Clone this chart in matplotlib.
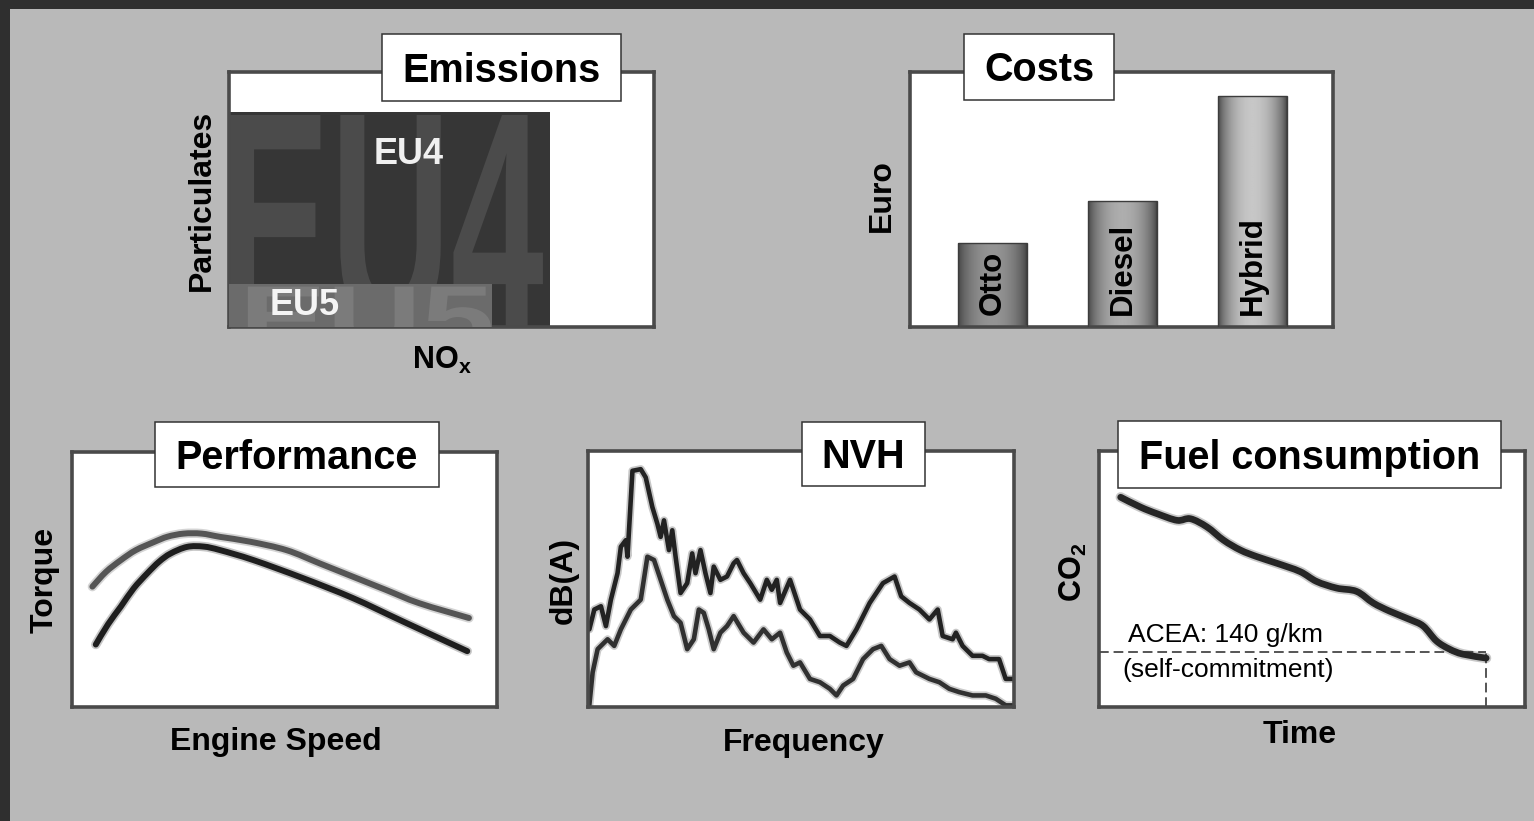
import numpy as np
import matplotlib
matplotlib.use("Agg")
import matplotlib.pyplot as plt
from matplotlib.patches import Rectangle, PathPatch
from matplotlib.path import Path
from matplotlib.textpath import TextPath
from matplotlib.font_manager import FontProperties
from matplotlib.transforms import Affine2D

W, H, DPI = 1534, 821, 100

plt.rcParams['font.family'] = ['Liberation Sans', 'DejaVu Sans']
plt.rcParams['mathtext.fontset'] = 'custom'
plt.rcParams['mathtext.rm'] = 'Liberation Sans'
plt.rcParams['mathtext.bf'] = 'Liberation Sans:bold'
plt.rcParams['mathtext.it'] = 'Liberation Sans:italic'

# ---- Emission limits (NOx / particulates, g/km) ----
eu_stages = ['EU4', 'EU5']
eu_nox = [0.25, 0.205]
eu_pm = [0.025, 0.005]

# ---- Costs ----
engine_types = ['Otto', 'Diesel', 'Hybrid']
engine_cost = [84, 126, 231]

# ---- Performance: torque over engine speed ----
speed_hi = [4.8, 8.0, 11.5, 15.0, 19.3, 22.5, 26.3, 30.5, 34.9, 42.0, 50.5, 58.3, 66.1, 73.9, 81.7, 93.4]
torque_hi = [47.2, 53.0, 57.6, 61.5, 64.7, 66.8, 68.0, 68.0, 66.7, 64.8, 61.5, 56.3, 51.1, 45.9, 40.7, 34.9]
speed_lo = [5.6, 8.5, 11.5, 14.5, 17.7, 20.5, 23.2, 27.1, 31.0, 34.9, 42.7, 54.4, 66.1, 77.8, 93.0]
torque_lo = [24.5, 32.5, 39.4, 46.5, 52.4, 57.0, 60.2, 62.8, 62.9, 61.5, 57.6, 50.5, 42.7, 33.6, 21.9]

# ---- NVH: sound level spectra ----
freq_hi = [0, 15, 35, 50, 65, 85, 95, 110, 115, 130, 155, 170, 190, 205, 215, 225, 240, 250, 260, 275,
           295, 310, 320, 335, 350, 365, 375, 395, 415, 435, 445, 465, 485, 515, 535, 550, 565, 575, 605,
           635, 665, 695, 725, 755, 775, 805, 845, 885, 920, 940, 965, 995, 1025, 1050, 1065, 1095, 1105,
           1125, 1155, 1185, 1205, 1235, 1255, 1275]
level_hi = [235, 295, 305, 245, 325, 405, 485, 505, 455, 715, 720, 695, 605, 555, 515, 565, 475, 535, 455, 345,
            375, 465, 405, 475, 405, 345, 425, 385, 395, 435, 445, 405, 375, 325, 385, 355, 385, 315, 385,
            295, 265, 215, 215, 195, 185, 235, 315, 375, 395, 335, 315, 295, 265, 295, 215, 205, 225,
            185, 155, 155, 145, 145, 85, 85]
freq_lo = [0, 10, 25, 55, 75, 95, 125, 155, 175, 195, 215, 235, 255, 275, 295, 315, 330, 345, 360, 375,
           395, 415, 435, 465, 495, 525, 550, 575, 595, 615, 635, 665, 695, 725, 745, 765, 795, 825, 855,
           880, 905, 935, 965, 985, 1025, 1055, 1085, 1115, 1155, 1195, 1225, 1255, 1275]
level_lo = [5, 105, 175, 205, 185, 235, 295, 325, 455, 445, 385, 325, 275, 255, 175, 205, 295, 285, 235, 175,
            225, 245, 275, 225, 195, 235, 205, 225, 165, 125, 135, 85, 75, 55, 35, 65, 85, 145, 175,
            185, 145, 125, 135, 105, 85, 75, 55, 45, 35, 35, 25, 5, 5]

# ---- Fuel consumption: fleet CO2 over time (g/km) ----
years = [1995.0, 1995.71, 1996.30, 1997.01, 1997.48, 1998.07, 1998.66, 1999.26, 1999.85, 2000.56, 2001.38,
         2001.97, 2002.68, 2003.39, 2003.98, 2004.57, 2005.28, 2005.76, 2006.23, 2006.70, 2007.17, 2008.0]
co2 = [187.0, 184.0, 182.0, 180.0, 180.5, 178.0, 174.0, 171.0, 169.0, 167.0, 164.5,
       161.5, 159.5, 158.5, 155.0, 152.5, 150.0, 148.0, 143.5, 141.0, 139.5, 138.3]
acea_target = 140
acea_year = 2008

BG_DARK = '#2f2f2f'
BG_LIGHT = '#b9b9b9'
SPINE = '#4a4a4a'

fig = plt.figure(figsize=(W / DPI, H / DPI), dpi=DPI)
fig.patch.set_facecolor(BG_DARK)
fig.patches.append(Rectangle((10 / W, 0), 1, 1 - 9 / H, transform=fig.transFigure,
                             facecolor=BG_LIGHT, edgecolor='none', zorder=-10))


def fx(x):
    return x / W


def fy(y):
    return 1 - y / H


def panel(x0, y0, x1, y1):
    ax = fig.add_axes([fx(x0), fy(y1), (x1 - x0) / W, (y1 - y0) / H])
    ax.set_facecolor('white')
    ax.set_xticks([])
    ax.set_yticks([])
    for s in ax.spines.values():
        s.set_color(SPINE)
        s.set_linewidth(2.6)
    return ax


def title_box(x0, y0, x1, y1, text):
    fig.patches.append(Rectangle((fx(x0), fy(y1)), (x1 - x0) / W, (y1 - y0) / H,
                                 transform=fig.transFigure, facecolor='white',
                                 edgecolor='#333333', linewidth=1.1, zorder=5))
    fig.text(fx((x0 + x1) / 2), fy((y0 + y1) / 2 + 14), text, ha='center', va='baseline',
             fontsize=28.5, fontweight='bold', color='black', zorder=6)


def soft_line(ax, x, y, color, lw):
    ax.plot(x, y, color=color, lw=lw + 2.5, alpha=0.25, solid_capstyle='round', solid_joinstyle='round')
    ax.plot(x, y, color=color, lw=lw, solid_capstyle='round', solid_joinstyle='round')


def smooth_curve(ax, x, y, color, lw):
    """Draw a smooth Bezier curve through the given points (Catmull-Rom tangents)."""
    pts = np.column_stack([x, y]).astype(float)
    n = len(pts)
    verts = [pts[0]]
    codes = [Path.MOVETO]
    for i in range(n - 1):
        p0 = pts[max(i - 1, 0)]
        p1 = pts[i]
        p2 = pts[i + 1]
        p3 = pts[min(i + 2, n - 1)]
        verts += [p1 + (p2 - p0) / 6.0, p2 - (p3 - p1) / 6.0, p2]
        codes += [Path.CURVE4] * 3
    path = Path(verts, codes)
    for w, a in ((lw + 2.5, 0.25), (lw, 1.0)):
        ax.add_patch(PathPatch(path, facecolor='none', edgecolor=color, linewidth=w, alpha=a,
                               capstyle='round', joinstyle='round', zorder=3))


def label(x, y, text, rotation=0, va='baseline', size=23):
    fig.text(fx(x), fy(y), text, ha='center', va=va, rotation=rotation,
             fontsize=size, fontweight='bold', color='black')


def lettering(ax, text, x0, x1, y0, y1, color, clip, zorder):
    tp = TextPath((0, 0), text, size=1, prop=FontProperties(family='Liberation Sans', weight='bold'))
    ext = tp.get_extents()
    tr = (Affine2D().translate(-ext.x0, -ext.y0)
          .scale((x1 - x0) / ext.width, (y1 - y0) / ext.height).translate(x0, y0))
    p = PathPatch(tr.transform_path(tp), facecolor=color, edgecolor='none', zorder=zorder)
    ax.add_patch(p)
    p.set_clip_path(clip)


# ---------------- Emissions ----------------
ax = panel(229, 72, 654, 327)
ax.set_xlim(0, 0.331)
ax.set_ylim(0, 0.02965)
eu4 = Rectangle((0, 0), eu_nox[0], eu_pm[0], facecolor='#363636', edgecolor='none', zorder=1)
ax.add_patch(eu4)
lettering(ax, eu_stages[0], 0.0008, 0.2445, -0.0004, 0.02465, '#4b4b4b', eu4, 2)
eu5 = Rectangle((0, 0), eu_nox[1], eu_pm[1], facecolor='#6b6b6b', edgecolor='none', zorder=3)
ax.add_patch(eu5)
lettering(ax, eu_stages[1], 0.0147, 0.204, -0.0025, 0.0047, '#7b7b7b', eu5, 4)
ax.text(0.1397, 0.0201, eu_stages[0], ha='center', va='center', fontsize=26,
        fontweight='bold', color='#f0f0f0', zorder=6)
ax.text(0.059, 0.00245, eu_stages[1], ha='center', va='center', fontsize=26,
        fontweight='bold', color='#f4f4f4', zorder=6)
title_box(382, 34, 621, 101, 'Emissions')
label(202, 200, 'Particulates', rotation=90, va='center')
label(442, 360, r'$\mathbf{NO}_{\mathbf{x}}$', va='center', size=22)

# ---------------- Costs ----------------
ax = panel(910, 72, 1333, 327)
xpos = np.arange(len(engine_types))
bars = ax.bar(xpos, engine_cost, width=0.53, facecolor='none', edgecolor='#3c3c3c', linewidth=1.0, zorder=3)
centers = [0.58, 0.68, 0.78]
u = np.linspace(0, 1, 128)
for b, c, name in zip(bars, centers, engine_types):
    shade = 0.24 + (c - 0.24) * np.sin(np.pi * u) ** 0.6
    im = ax.imshow(shade[np.newaxis, :], cmap='gray', vmin=0, vmax=1, aspect='auto',
                   extent=[b.get_x(), b.get_x() + b.get_width(), 0, b.get_height()],
                   interpolation='bilinear', zorder=2)
    im.set_clip_path(b)
    ax.text(b.get_x() + b.get_width() / 2, 12, name, rotation=90, ha='center', va='bottom',
            fontsize=22.5, fontweight='bold', color='black', zorder=4)
ax.set_xlim(-0.635, 2.619)
ax.set_ylim(0, 255)
title_box(964, 34, 1114, 100, 'Costs')
label(882, 196, 'Euro', rotation=90, va='center')

# ---------------- Performance ----------------
ax = panel(72, 452, 497, 707)
ax.set_xlim(0, 100)
ax.set_ylim(0, 100)
smooth_curve(ax, speed_hi, torque_hi, '#555555', 4.3)
smooth_curve(ax, speed_lo, torque_lo, '#1e1e1e', 4.3)
title_box(155, 422, 439, 487, 'Performance')
label(45, 580, 'Torque', rotation=90, va='center')
label(276, 750, 'Engine Speed')

# ---------------- NVH ----------------
ax = panel(588, 451, 1014, 707)
soft_line(ax, freq_hi, level_hi, '#222222', 3.3)
soft_line(ax, freq_lo, level_lo, '#303030', 3.3)
ax.set_xlim(-4, 1280)
ax.set_ylim(0, 775)
title_box(802, 422, 925, 486, 'NVH')
label(564, 580, 'dB(A)', rotation=90, va='center')
label(804, 751, 'Frequency')

# ---------------- Fuel consumption ----------------
ax = panel(1099, 451, 1525, 707)
ax.set_xlim(1994.23, 2009.38)
ax.set_ylim(123.5, 201)
x_left = ax.get_xlim()[0]
y_bottom = ax.get_ylim()[0]
ax.hlines(acea_target, x_left, acea_year, colors='#555555', linestyles=(0, (5, 2.5)), linewidth=1.4, zorder=2)
ax.vlines(acea_year, y_bottom, acea_target, colors='#555555', linestyles=(0, (5, 2.5)), linewidth=1.4, zorder=2)
smooth_curve(ax, years, co2, '#262626', 4.8)
ax.text(0.068, 0.281, 'ACEA: %d g/km' % acea_target, transform=ax.transAxes, ha='left', va='center',
        fontsize=19, color='black')
ax.text(0.056, 0.145, '(self-commitment)', transform=ax.transAxes, ha='left', va='center',
        fontsize=19, color='black')
title_box(1118, 421, 1501, 488, 'Fuel consumption')
label(1073, 572, r'$\mathbf{CO}_{\mathbf{2}}$', rotation=90, va='center', size=22)
label(1300, 743, 'Time')

fig.savefig('out.png', dpi=DPI, facecolor=fig.get_facecolor())
